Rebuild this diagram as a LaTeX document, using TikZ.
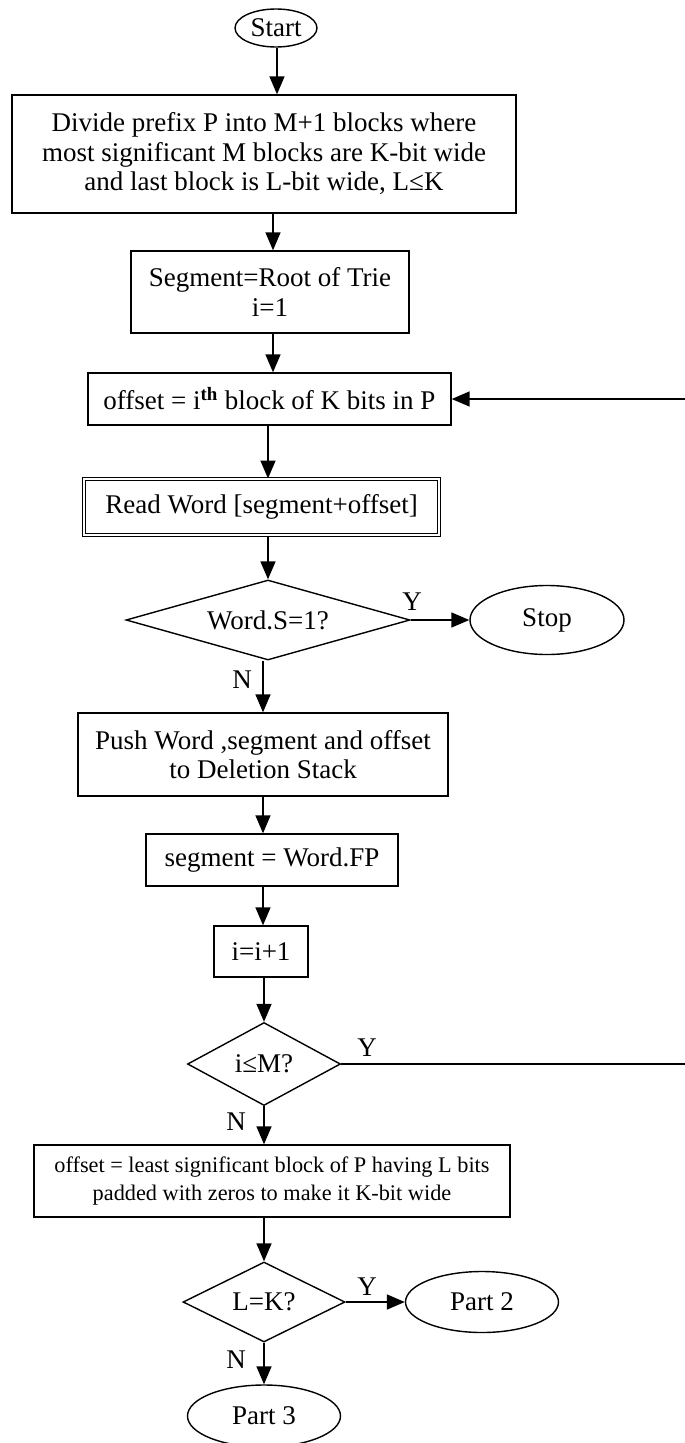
\documentclass[tikz,border=0pt]{standalone}
\usepackage{fontspec}
\setmainfont{Liberation Serif}
\usetikzlibrary{arrows.meta,shapes.geometric}

\tikzset{
  txt/.style={font=\fontsize{27}{29.5}\selectfont},
  flow/.style={line width=1.6pt,-{Triangle[length=18pt,width=15pt]}},
  proc/.style={draw,line width=1.4pt,rectangle,inner sep=0pt,align=center,txt},
  twin/.style={proc,line width=1pt,double,double distance=2.4pt},
  term/.style={draw,line width=1.4pt,ellipse,inner sep=0pt,txt},
  decide/.style={draw,line width=1.4pt,diamond,inner sep=0pt,aspect=3,txt},
  tag/.style={inner sep=0pt,txt}
}

\begin{document}
\begin{tikzpicture}[x=1pt,y=-1pt]
\useasboundingbox[fill=white] (0,0) rectangle (685,1443);

% process chain
\node[term,minimum width=82pt,minimum height=38pt] (start) at (276,28) {Start};
\node[proc,minimum width=504pt,minimum height=118pt] (divide) at (264,154)
  {Divide prefix P into M+1 blocks where\\most significant M blocks are K-bit wide\\and last block is L-bit wide, L≤K};
\node[proc,minimum width=278pt,minimum height=82pt] (root) at (270,292)
  {Segment=Root of Trie\\i=1};
\node[proc,minimum width=363pt,minimum height=52pt] (offset) at (269.5,399)
  {offset = i\textsuperscript{\textbf{th}} block of K bits in P};
\node[twin,minimum width=355pt,minimum height=56pt] (read) at (261.5,507)
  {Read Word [segment+offset]};
\node[decide,minimum width=284pt,minimum height=80pt] (testS) at (268,620) {Word.S=1?};
\node[term,minimum width=154pt,minimum height=69pt] (stop) at (547,620) {Stop};
\node[proc,minimum width=370pt,minimum height=83pt] (push) at (263,754.5)
  {Push Word ,segment and offset\\to Deletion Stack};
\node[proc,minimum width=252pt,minimum height=52pt] (seg) at (272,860)
  {segment = Word.FP};
\node[proc,minimum width=94pt,minimum height=51pt] (inc) at (261,951.5) {i=i+1};
\node[decide,minimum width=153pt,minimum height=83pt,aspect=2] (testM) at (264,1064) {i≤M?};
\node[proc,minimum width=476pt,minimum height=72pt,font=\fontsize{22.3}{28}\selectfont] (last) at (272,1181)
  {offset = least significant block of P having L bits\\padded with zeros to make it K-bit wide};
\node[decide,minimum width=162pt,minimum height=80pt,aspect=2] (testL) at (264,1302) {L=K?};
\node[term,minimum width=153pt,minimum height=61pt] (part2) at (482,1302) {Part 2};
\node[term,minimum width=153pt,minimum height=62pt] (part3) at (264,1416) {Part 3};

% branch labels
\node[tag] (y1) at (412,602) {Y};
\node[tag] (n1) at (242,680) {N};
\node[tag] (y2) at (367,1048) {Y};
\node[tag] (n2) at (236,1122) {N};
\node[tag] (y3) at (367,1287) {Y};
\node[tag] (n3) at (236,1360) {N};

% connectors
\draw[flow] (start.south -| 277,0) -- (divide.north -| 277,0);
\draw[flow] (divide.south -| 273,0) -- (root.north -| 273,0);
\draw[flow] (root.south -| 273,0) -- (offset.north -| 273,0);
\draw[flow] (offset.south -| testS.north) -- (read.north -| testS.north);
\draw[flow] (read.south -| testS.north) -- (testS.north);
\draw[flow] (testS.east) -- (stop.west);
\draw[flow] (testS.south -| 263,0) -- (push.north -| 263,0);
\draw[flow] (push.south -| 263,0) -- (seg.north -| 263,0);
\draw[flow] (seg.south -| 263,0) -- (inc.north -| 263,0);
\draw[flow] (inc.south -| testM.north) -- (testM.north);
\draw[flow] (testM.east) -- (692,1064) |- (offset.east);
\draw[flow] (testM.south) -- (last.north -| testM.south);
\draw[flow] (last.south -| testL.north) -- (testL.north);
\draw[flow] (testL.east) -- (part2.west);
\draw[flow] (testL.south) -- (part3.north);
\end{tikzpicture}
\end{document}
